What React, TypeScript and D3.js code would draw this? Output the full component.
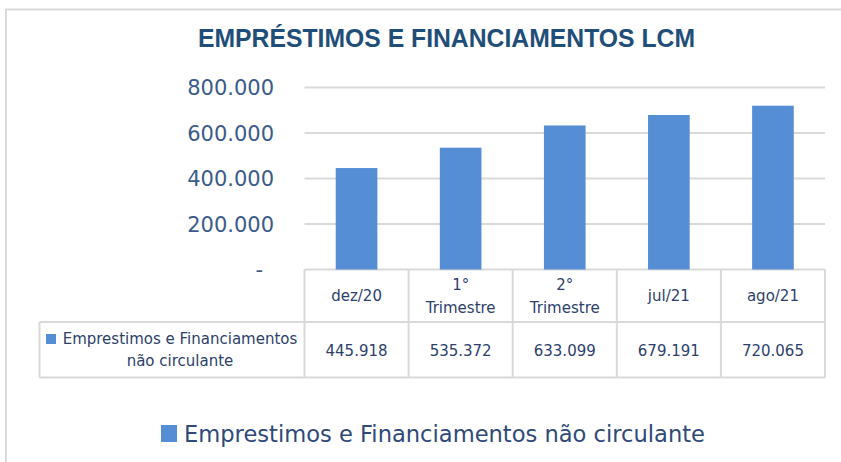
import React from "react";
import * as d3 from "d3";

const title = "EMPRÉSTIMOS E FINANCIAMENTOS LCM";
const seriesName = "Emprestimos e Financiamentos não circulante";
const categories = ["dez/20", "1° Trimestre", "2° Trimestre", "jul/21", "ago/21"];
const values = [445918, 535372, 633099, 679191, 720065];
const yTicks = [0, 200000, 400000, 600000, 800000];

const W = 841,
  H = 462;
const plot = { left: 304.5, right: 825, top: 87.5, bottom: 269.5 };
const headBottom = 322;
const tableBottom = 377.5;
const tableLeft = 39.5;

const barColor = "#558ED5";
const gridColor = "#D9D9D9";
const tickColor = "#3B5B8A";
const tableColor = "#2D3F6B";
const font = "'DejaVu Sans', Verdana, sans-serif";

const ptBR = d3.formatLocale({
  decimal: ",",
  thousands: ".",
  grouping: [3],
  currency: ["R$", ""],
});
const fmt = ptBR.format(",.0f");

const App = () => {
  const x = d3
    .scaleBand<string>()
    .domain(categories)
    .range([plot.left, plot.right])
    .paddingInner(0.6)
    .paddingOuter(0.3);
  const y = d3.scaleLinear().domain([0, 800000]).range([plot.bottom, plot.top]);

  const step = x.step();
  // column boundaries of the data table follow the band steps
  const colEdges = categories.map((_, i) => plot.left + i * step).concat(plot.right);
  const headMid = (plot.bottom + headBottom) / 2;
  const valMid = (headBottom + tableBottom) / 2;

  return (
    <svg
      width={W}
      height={H}
      style={{ position: "absolute", left: 0, top: 0, background: "#fff" }}
    >
      {/* chart frame (cut off on right and bottom) */}
      <rect x={6} y={9.5} width={1000} height={1000} fill="#fff" stroke={gridColor} strokeWidth={2} />

      <text
        x={446.5}
        y={46.5}
        textAnchor="middle"
        fontFamily="'Liberation Sans Narrow', 'Liberation Sans', Arial, sans-serif"
        fontWeight="bold"
        fontSize={26}
        fill="#1F4E79"
        textLength={497}
        lengthAdjust="spacingAndGlyphs"
      >
        {title}
      </text>

      {/* gridlines */}
      {yTicks.map((t) => (
        <line
          key={"g" + t}
          x1={plot.left}
          x2={plot.right}
          y1={y(t)}
          y2={y(t)}
          stroke={gridColor}
          strokeWidth={2}
        />
      ))}

      {/* y tick labels */}
      {yTicks.map((t) => (
        <text
          key={"t" + t}
          x={t === 0 ? 263 : 274}
          y={y(t) + 7.5}
          textAnchor="end"
          fontFamily={font}
          fontSize={21}
          fill={tickColor}
        >
          {t === 0 ? "-" : fmt(t)}
        </text>
      ))}

      {/* bars */}
      {categories.map((c, i) => (
        <rect
          key={"b" + c}
          x={x(c)}
          y={y(values[i])}
          width={x.bandwidth()}
          height={y(0) - y(values[i])}
          fill={barColor}
        />
      ))}

      {/* data table lines */}
      <g stroke={gridColor} strokeWidth={2} fill="none">
        <line x1={plot.left} x2={plot.right} y1={headBottom} y2={headBottom} />
        <line x1={tableLeft} x2={plot.right} y1={tableBottom} y2={tableBottom} />
        <line x1={tableLeft} x2={plot.left} y1={headBottom} y2={headBottom} />
        <line x1={tableLeft} x2={tableLeft} y1={headBottom} y2={tableBottom} />
        {colEdges.map((e, i) => (
          <line key={"c" + i} x1={e} x2={e} y1={plot.bottom} y2={tableBottom} />
        ))}
      </g>

      {/* table header */}
      {categories.map((c, i) => {
        const lines = c.split(" ");
        const cx = (colEdges[i] + colEdges[i + 1]) / 2;
        const first = headMid + 5.5 - (lines.length - 1) * 11.5;
        return (
          <text key={"h" + c} textAnchor="middle" fontFamily={font} fontSize={15} fill={tableColor}>
            {lines.map((l, j) => (
              <tspan key={j} x={cx} y={first + j * 23}>
                {l}
              </tspan>
            ))}
          </text>
        );
      })}

      {/* table values */}
      {values.map((v, i) => (
        <text
          key={"v" + i}
          x={(colEdges[i] + colEdges[i + 1]) / 2}
          y={valMid + 6.5}
          textAnchor="middle"
          fontFamily={font}
          fontSize={15}
          fill={tableColor}
        >
          {fmt(v)}
        </text>
      ))}

      {/* table series label */}
      <rect x={46} y={334} width={10} height={10} fill={barColor} />
      <text textAnchor="middle" fontFamily={font} fontSize={15} fill={tableColor}>
        <tspan x={180} y={343.5}>
          {seriesName.split(" ").slice(0, 3).join(" ")}
        </tspan>
        <tspan x={180} y={366}>
          {seriesName.split(" ").slice(3).join(" ")}
        </tspan>
      </text>

      {/* legend */}
      <rect x={161} y={425} width={16} height={17} fill={barColor} />
      <text
        x={184}
        y={441.5}
        fontFamily={font}
        fontSize={22.4}
        fill="#2F4A7A"
        textLength={521}
        lengthAdjust="spacingAndGlyphs"
      >
        {seriesName}
      </text>
    </svg>
  );
};

export default App;
